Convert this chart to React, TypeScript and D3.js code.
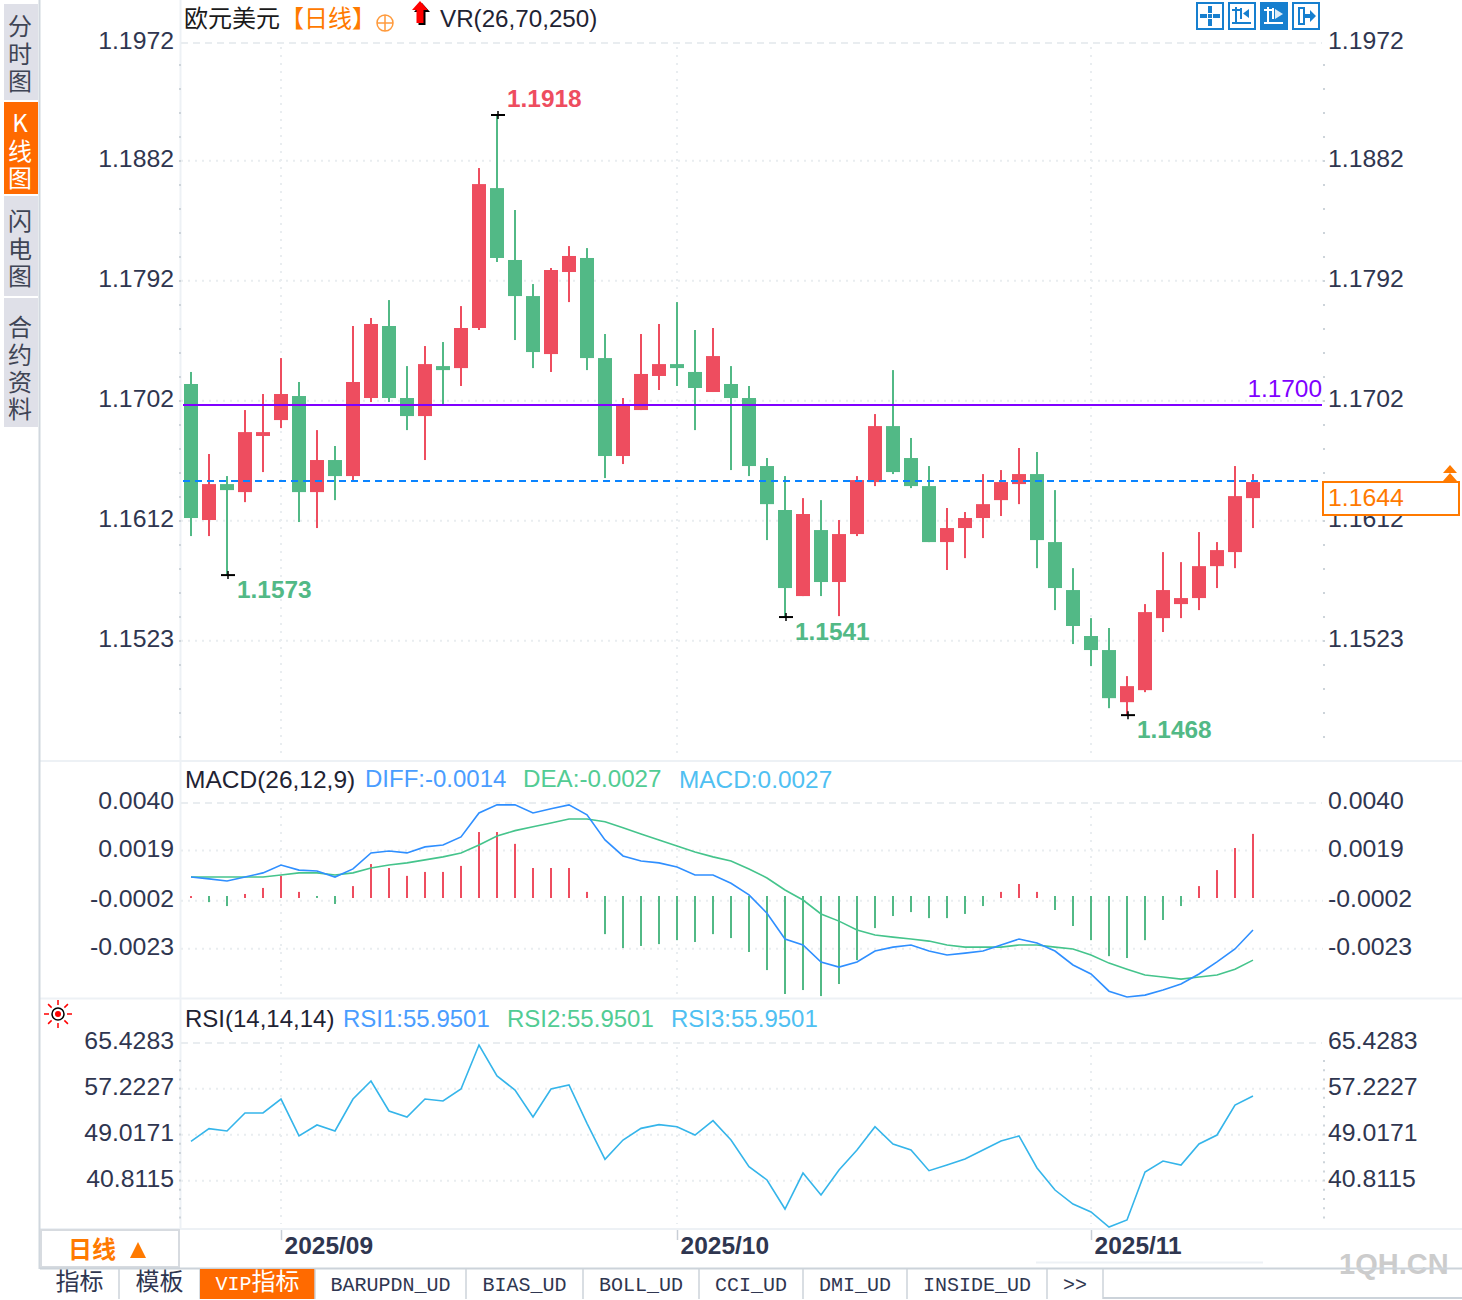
import React, { useEffect, useRef } from 'react';
import * as d3 from 'd3';

// candles, left to right, one per trading day
const opens = [1.17151,1.16133,1.16402,1.16342,1.16762,1.16881,1.17061,1.16342,1.16582,1.16462,1.17046,1.17585,1.17046,1.16911,1.17285,1.1727,1.1757,1.18617,1.18079,1.17809,1.17375,1.17989,1.18094,1.17345,1.16612,1.16956,1.17211,1.173,1.17241,1.17091,1.17151,1.17046,1.16537,1.16208,1.15564,1.16058,1.15669,1.16028,1.16417,1.16836,1.16597,1.16387,1.15968,1.16073,1.16148,1.16282,1.16402,1.16477,1.15968,1.15609,1.15265,1.1516,1.1477,1.1486,1.15399,1.15504,1.15549,1.15788,1.15893,1.16297];
const highs = [1.17241,1.16627,1.16462,1.16956,1.17076,1.17345,1.17166,1.16806,1.16687,1.17585,1.17645,1.17779,1.17285,1.17435,1.17465,1.17734,1.18767,1.19164,1.18453,1.17899,1.18019,1.18183,1.18168,1.17525,1.17046,1.17525,1.176,1.17764,1.17555,1.1757,1.17285,1.17136,1.16597,1.16462,1.16297,1.16282,1.16133,1.16462,1.16926,1.17255,1.16747,1.16537,1.16223,1.16193,1.16477,1.16507,1.16672,1.16642,1.16357,1.15773,1.15399,1.15325,1.14965,1.15504,1.15893,1.15818,1.16043,1.15968,1.16537,1.16477];
const lows = [1.16013,1.16013,1.15721,1.16267,1.16492,1.16821,1.16118,1.16073,1.16282,1.16432,1.17016,1.17016,1.16806,1.16582,1.17001,1.17136,1.17555,1.18064,1.1748,1.1727,1.17241,1.17764,1.17255,1.16447,1.16552,1.16956,1.17106,1.17136,1.16806,1.17091,1.16507,1.16462,1.15983,1.15407,1.15564,1.15564,1.15414,1.16013,1.16387,1.16477,1.16372,1.15968,1.15759,1.15848,1.15998,1.16163,1.16252,1.15773,1.15459,1.15205,1.1504,1.14725,1.14673,1.14845,1.15295,1.15399,1.15459,1.15624,1.15773,1.16073];
const closes = [1.16148,1.16402,1.16357,1.16791,1.16791,1.17076,1.16342,1.16582,1.16462,1.17166,1.176,1.17046,1.16911,1.173,1.17255,1.1757,1.18647,1.18094,1.17809,1.1739,1.18004,1.18109,1.17345,1.16612,1.17001,1.17226,1.173,1.1727,1.17121,1.1736,1.17046,1.16537,1.16252,1.15624,1.16178,1.15669,1.16028,1.16432,1.16836,1.16492,1.16387,1.15968,1.16073,1.16148,1.16252,1.16417,1.16477,1.15983,1.15624,1.1534,1.1516,1.148,1.1489,1.15444,1.15609,1.15549,1.15788,1.15908,1.16312,1.16417];

// MACD pane
const macdBars = [0.00004,-0.00022,-0.00039,0.00013,0.00039,0.00091,0.00022,-0.00004,-0.0003,0.00047,0.00142,0.00125,0.00091,0.00108,0.00108,0.00134,0.0028,0.0028,0.00229,0.00125,0.00125,0.00125,0.00022,-0.0016,-0.0022,-0.00211,-0.00203,-0.00186,-0.00194,-0.0016,-0.00177,-0.00237,-0.00315,-0.00418,-0.00401,-0.00427,-0.00375,-0.00272,-0.00134,-0.00082,-0.00065,-0.00091,-0.00091,-0.00073,-0.00039,0.00022,0.00056,0.00022,-0.00056,-0.00125,-0.00186,-0.00255,-0.00263,-0.00186,-0.00099,-0.00039,0.00047,0.00116,0.00211,0.00272];
const diffLine = [0.00086,0.00078,0.00069,0.00086,0.00104,0.00138,0.00116,0.00112,0.00086,0.00121,0.0019,0.00198,0.0019,0.00216,0.00224,0.00259,0.00362,0.00397,0.00397,0.00362,0.0038,0.00397,0.00354,0.00246,0.00177,0.00155,0.00147,0.00129,0.00095,0.00095,0.00059,0.00009,-0.0007,-0.00181,-0.00207,-0.0028,-0.00302,-0.0028,-0.00233,-0.00216,-0.00207,-0.00233,-0.0025,-0.00242,-0.00233,-0.00207,-0.00181,-0.00198,-0.00233,-0.00293,-0.00332,-0.00406,-0.00431,-0.00423,-0.00401,-0.00375,-0.00332,-0.0028,-0.00224,-0.00142];
const deaLine = [0.00086,0.00086,0.00086,0.00086,0.00086,0.00095,0.00104,0.00104,0.00095,0.00104,0.00125,0.00138,0.00147,0.0016,0.00173,0.0019,0.00224,0.00263,0.00286,0.00303,0.00319,0.00336,0.00336,0.00324,0.00298,0.00272,0.00246,0.0022,0.00194,0.00173,0.00155,0.00121,0.00082,0.0003,-0.00013,-0.00073,-0.00104,-0.00142,-0.00164,-0.00173,-0.00181,-0.0019,-0.00207,-0.00216,-0.00216,-0.00216,-0.00207,-0.00207,-0.00216,-0.00224,-0.0025,-0.00285,-0.00311,-0.00336,-0.00345,-0.00354,-0.00345,-0.00336,-0.00311,-0.00272];

// RSI pane
const rsiLine = [47.84,50.09,49.68,52.89,52.89,55.38,48.79,50.75,49.68,55.38,58.6,53.24,52.17,55.38,55.03,57.17,65.02,59.49,56.99,52.17,57.17,57.88,51.04,44.62,48.07,50.15,50.81,50.45,48.96,51.52,48.07,43.32,40.94,35.76,42.18,38.26,42.72,46.29,50.45,47.36,46.29,42.6,43.61,44.68,46.29,47.89,48.79,43.08,39.15,36.65,35.23,32.55,33.8,42.36,44.32,43.61,47.36,48.96,54.31,55.92];

// tick positions and their printed labels
const priceTicks = [1.1972, 1.18822, 1.17924, 1.17026, 1.16128, 1.1523];
const priceTickLabels = ['1.1972', '1.1882', '1.1792', '1.1702', '1.1612', '1.1523'];
const macdTicks = [0.00407, 0.002, -0.00016, -0.00223];
const macdTickLabels = ['0.0040', '0.0019', '-0.0002', '-0.0023'];
const rsiTicks = [65.4283, 57.2227, 49.0171, 40.8115];
const rsiTickLabels = ['65.4283', '57.2227', '49.0171', '40.8115'];
const dateTicks = [5, 27, 50];
const dateTickLabels = ['2025/09', '2025/10', '2025/11'];

// price annotations
const extremeIdx = [17, 2, 33, 52];
const extremeLabels = ['1.1918', '1.1573', '1.1541', '1.1468'];
const markPrice = 1.16994;
const lastPrice = 1.16425;

const sideTabs = ['分时图', 'K线图', '闪电图', '合约资料'];
const bottomTabs = ['指标', '模板', 'VIP指标', 'BARUPDN_UD', 'BIAS_UD', 'BOLL_UD', 'CCI_UD', 'DMI_UD', 'INSIDE_UD', '>>'];

const UP = '#ee4d5f';
const DOWN = '#52b986';
const ORANGE = '#ff7a00';
const TEXT = '#2f3650';
const GRID = '#e9edf0';
const SANS = '"Liberation Sans", Arial, sans-serif';
const CJK = '"Noto Sans CJK SC", sans-serif';
const MONO = '"Liberation Mono", monospace';

export default function App() {
  const svgRef = useRef<SVGSVGElement>(null);

  useEffect(() => {
    const svg = d3.select(svgRef.current);
    svg.selectAll('*').remove();

    const plotLeft = 181;
    const plotRight = 1323;

    const x = d3.scaleLinear().domain([0, 59]).range([191, 1253]);
    const yPrice = d3.scaleLinear().domain([1.1523, 1.1972]).range([640.7, 40.7]);
    const yMacd = d3.scaleLinear().domain([0, 0.00431]).range([897, 797]);
    const yRsi = d3.scaleLinear().domain([40.8115, 65.4283]).range([1180.7, 1042.7]);

    const addText = (px: number, py: number, str: string, fill: string, opts: any = {}) =>
      svg.append('text')
        .attr('x', px).attr('y', py)
        .attr('dy', '0.35em')
        .attr('text-anchor', opts.anchor || 'start')
        .style('font-family', opts.family || SANS)
        .style('font-size', `${opts.size || 24}px`)
        .style('font-weight', opts.weight || 400)
        .style('fill', fill)
        .text(str);

    const hLine = (py: number, x1: number, x2: number, color: string, w = 2, dash?: string) =>
      svg.append('line').attr('x1', x1).attr('x2', x2).attr('y1', py).attr('y2', py)
        .attr('stroke', color).attr('stroke-width', w).attr('stroke-dasharray', dash || null);

    const vLine = (px: number, y1: number, y2: number, color: string, w = 2, dash?: string) =>
      svg.append('line').attr('x1', px).attr('x2', px).attr('y1', y1).attr('y2', y2)
        .attr('stroke', color).attr('stroke-width', w).attr('stroke-dasharray', dash || null);

    // pane frames
    hLine(761, 40, 1462, '#edf1f5');
    hLine(998.5, 40, 1462, '#edf1f5');
    hLine(1229, 40, 1462, '#edf1f5');
    vLine(180.5, 0, 1229, '#edf1f5');
    vLine(39.5, 0, 1269, '#d0d7de');

    // top dashed borders of each pane
    [43, 803, 1043].forEach(py => hLine(py, plotLeft, 1322, GRID, 2, '7 5'));

    // horizontal dotted grid
    priceTicks.slice(1).forEach(t => hLine(yPrice(t), plotLeft, plotRight, GRID, 2, '2 5'));
    macdTicks.slice(1).forEach(t => hLine(yMacd(t), plotLeft, plotRight, GRID, 2, '2 5'));
    rsiTicks.slice(1).forEach(t => hLine(yRsi(t), plotLeft, plotRight, GRID, 2, '2 5'));

    // vertical dotted grid at month starts
    dateTicks.forEach(i => {
      vLine(x(i), 47, 756, GRID, 2, '2 6');
      vLine(x(i), 808, 996, GRID, 2, '2 6');
      vLine(x(i), 1047, 1224, GRID, 2, '2 6');
    });

    // minor axis marks
    d3.range(65, 745, 24).forEach(py => {
      hLine(py, 179, 181, '#cdd4da');
      hLine(py, 1323, 1325, '#cdd4da');
    });
    d3.range(1061, 1225, 9.2).forEach(py => {
      hLine(py, 179, 181, '#cdd4da');
      hLine(py, 1323, 1325, '#cdd4da');
    });

    // axes, labels sit a little above their grid line (the top price label does not)
    const styleAxis = (g: any) => {
      g.select('.domain').remove();
      g.selectAll('.tick line').remove();
      g.selectAll('text')
        .attr('y', function (this: any) { return d3.select(this).text() === '1.1972' ? 0 : -2; })
        .style('font-family', SANS)
        .style('font-size', '24.8px')
        .style('fill', TEXT);
    };
    const addAxes = (scale: any, ticks: number[], labels: string[]) => {
      svg.append('g').attr('transform', 'translate(180,0)')
        .call(d3.axisLeft(scale).tickValues(ticks).tickSize(0).tickPadding(6)
          .tickFormat((_: any, i: number) => labels[i]))
        .call(styleAxis);
      svg.append('g').attr('transform', 'translate(1322,0)')
        .call(d3.axisRight(scale).tickValues(ticks).tickSize(0).tickPadding(6)
          .tickFormat((_: any, i: number) => labels[i]))
        .call(styleAxis);
    };
    addAxes(yPrice, priceTicks, priceTickLabels);
    addAxes(yMacd, macdTicks, macdTickLabels);
    addAxes(yRsi, rsiTicks, rsiTickLabels);

    // candles
    const candles = svg.append('g').selectAll('g')
      .data(d3.range(closes.length))
      .enter().append('g')
      .attr('fill', i => (closes[i] >= opens[i] ? UP : DOWN));
    candles.append('rect')
      .attr('x', i => x(i) - 1).attr('width', 2)
      .attr('y', i => yPrice(highs[i]))
      .attr('height', i => yPrice(lows[i]) - yPrice(highs[i]));
    candles.append('rect')
      .attr('x', i => x(i) - 7).attr('width', 14)
      .attr('y', i => yPrice(Math.max(opens[i], closes[i])))
      .attr('height', i => Math.max(2, Math.abs(yPrice(opens[i]) - yPrice(closes[i]))));

    // high and low markers
    extremeIdx.forEach((idx, n) => {
      const isHigh = n === 0;
      const py = yPrice(isHigh ? highs[idx] : lows[idx]);
      hLine(py, x(idx) - 6, x(idx) + 8, '#000');
      vLine(x(idx) + 1, py - 4, py + 4, '#000', 1.5);
      addText(x(idx) + 10, py + (isHigh ? -17 : 14), extremeLabels[n], isHigh ? UP : DOWN, { weight: 700, size: 24.4 });
    });

    // reference lines
    hLine(yPrice(markPrice), 183, 1322, '#8000ff');
    addText(1322, 388.5, '1.1700', '#8000ff', { anchor: 'end', size: 24.4 });
    hLine(yPrice(lastPrice), 183, 1322, '#0a84ff', 2, '7 5');
    svg.append('rect').attr('x', 1323).attr('y', 482).attr('width', 136).attr('height', 33)
      .attr('fill', '#fff').attr('stroke', ORANGE).attr('stroke-width', 2);
    addText(1328, 497, '1.1644', ORANGE, { size: 24.8 });
    [0, 8].forEach(dy => {
      svg.append('path')
        .attr('d', d3.line()([[1443, 473 + dy], [1450, 465 + dy], [1457, 473 + dy]]) + 'Z')
        .attr('fill', ORANGE);
    });

    // MACD histogram
    svg.append('g').selectAll('rect')
      .data(macdBars)
      .enter().append('rect')
      .attr('x', (_, i) => x(i) - 1)
      .attr('width', 2)
      .attr('y', d => (d >= 0 ? yMacd(d) : yMacd(0) - 1))
      .attr('height', d => Math.abs(yMacd(d) - yMacd(0)) + 1)
      .attr('fill', d => (d >= 0 ? UP : DOWN));

    const drawLine = (values: number[], scale: any, color: string) =>
      svg.append('path')
        .attr('d', d3.line<number>().x((_, i) => x(i)).y(d => scale(d))(values))
        .attr('fill', 'none').attr('stroke', color).attr('stroke-width', 1.6);

    drawLine(deaLine, yMacd, '#45c48c');
    drawLine(diffLine, yMacd, '#2f8fff');
    drawLine(rsiLine, yRsi, '#35b5ea');

    // pane headers
    addText(184, 19, '欧元美元', '#1a1a1a', { family: CJK });
    addText(280, 19, '【日线】', ORANGE, { family: CJK });
    addText(440, 19, 'VR(26,70,250)', '#1f2333', { size: 24.2 });
    svg.append('circle').attr('cx', 385).attr('cy', 23).attr('r', 8)
      .attr('fill', 'none').attr('stroke', '#ff9a3c').attr('stroke-width', 1.5);
    hLine(23, 377, 393, '#ff9a3c', 1.5);
    vLine(385, 15, 31, '#ff9a3c', 1.5);
    const arrow = 'M0,-12 L8,-3 L3.5,-3 L3.5,10 L-3.5,10 L-3.5,-3 L-8,-3 Z';
    svg.append('path').attr('d', arrow).attr('transform', 'translate(422,15)').attr('fill', '#000');
    svg.append('path').attr('d', arrow).attr('transform', 'translate(420,13)').attr('fill', '#f00');

    addText(185, 779, 'MACD(26,12,9)', '#1f2333', { size: 24.5 });
    addText(365, 779, 'DIFF:-0.0014', '#4a9dff');
    addText(523, 779, 'DEA:-0.0027', '#52cc94', { size: 24.2 });
    addText(679, 779, 'MACD:0.0027', '#4fc0f2', { size: 24.4 });

    addText(185, 1019, 'RSI(14,14,14)', '#1f2333');
    addText(343, 1019, 'RSI1:55.9501', '#4a9dff');
    addText(507, 1019, 'RSI2:55.9501', '#52cc94');
    addText(671, 1019, 'RSI3:55.9501', '#4fc0f2');

    // indicator sun
    svg.append('circle').attr('cx', 58).attr('cy', 1014).attr('r', 6)
      .attr('fill', '#fff').attr('stroke', '#000').attr('stroke-width', 1.5);
    svg.append('circle').attr('cx', 58).attr('cy', 1014).attr('r', 3).attr('fill', '#f00');
    d3.range(8).forEach(k => {
      const a = (k * Math.PI) / 4;
      svg.append('line')
        .attr('x1', 58 + 9 * Math.cos(a)).attr('y1', 1014 + 9 * Math.sin(a))
        .attr('x2', 58 + 14 * Math.cos(a)).attr('y2', 1014 + 14 * Math.sin(a))
        .attr('stroke', '#f00').attr('stroke-width', 1.5);
    });

    // toolbar icons
    const iconX = [1197, 1229, 1261, 1293];
    iconX.forEach((ix, n) => {
      const active = n === 2;
      const c = active ? '#fff' : '#167fcf';
      svg.append('rect').attr('x', ix).attr('y', 3).attr('width', 26).attr('height', 26)
        .attr('fill', active ? '#167fcf' : '#fff').attr('stroke', '#167fcf').attr('stroke-width', 2);
      const g = svg.append('g').attr('transform', `translate(${ix},3)`);
      if (n === 0) {
        g.append('path').attr('fill', c)
          .attr('d', 'M11,3 h4 v7 h-4 Z M11,16 h4 v7 h-4 Z M3,11 h7 v4 h-7 Z M16,11 h7 v4 h-7 Z M11,11 h4 v4 h-4 Z');
      } else if (n === 3) {
        g.append('path').attr('fill', 'none').attr('stroke', c).attr('stroke-width', 2).attr('d', 'M6,5 h5 v16 h-5 Z');
        g.append('path').attr('fill', c).attr('d', 'M11,11 h6 v-4 l6,6 l-6,6 v-4 h-6 Z');
      } else {
        g.append('path').attr('fill', 'none').attr('stroke', c).attr('stroke-width', 2)
          .attr('d', 'M7,4 v17 M3,20 h19 M3,7 h8 M12,5 v11');
        g.append('path').attr('fill', c).attr('opacity', n === 2 ? 0.85 : 1)
          .attr('d', n === 1 ? 'M20,6 v9 l-6,-4.5 Z' : 'M14,6 v10 l8,-5 Z');
      }
    });

    // date axis
    svg.append('g').attr('transform', 'translate(0,1230)')
      .call(d3.axisBottom(x).tickValues(dateTicks).tickSize(10)
        .tickFormat((_: any, i: number) => dateTickLabels[i]))
      .call((g: any) => {
        g.select('.domain').remove();
        g.selectAll('.tick line').attr('stroke', '#c8ced6').attr('stroke-width', 1.5);
        g.selectAll('text')
          .attr('text-anchor', 'start').attr('x', 3).attr('y', 15).attr('dy', '0.35em')
          .style('font-family', SANS).style('font-size', '24.5px').style('font-weight', 700)
          .style('fill', TEXT);
      });

    hLine(1262.5, 1036, 1263, '#edf1f5');
    addText(1339, 1264, '1QH.CN', '#cccccc', { size: 29, weight: 700 });

    // left side tabs, one text per tab
    const tabTops = [4, 102, 196, 298];
    const tabBottoms = [100, 194, 296, 427];
    const tabFirstChar = [27, 124, 222, 328];
    sideTabs.forEach((label, n) => {
      const active = n === 1;
      svg.append('rect').attr('x', 4).attr('y', tabTops[n]).attr('width', 34)
        .attr('height', tabBottoms[n] - tabTops[n])
        .attr('fill', active ? '#ff6a00' : '#dfe0e8');
      const t = svg.append('text')
        .attr('text-anchor', 'middle')
        .style('font-family', CJK).style('font-size', '24px')
        .style('fill', active ? '#fff' : '#3f4555');
      Array.from(label).forEach((ch, k) => {
        t.append('tspan').attr('x', 20).attr('y', tabFirstChar[n] + k * 27.3).attr('dy', '0.35em').text(ch);
      });
    });

    // period selector
    svg.append('rect').attr('x', 41).attr('y', 1230).attr('width', 138).attr('height', 37)
      .attr('fill', '#fff').attr('stroke', '#d7dbe0').attr('stroke-width', 2);
    addText(68, 1250, '日线', ORANGE, { family: CJK, weight: 700 });
    svg.append('path').attr('d', d3.line()([[138, 1242], [146, 1258], [130, 1258]]) + 'Z').attr('fill', ORANGE);

    // bottom tabs
    const tabEdges = [40, 119, 200, 315, 466, 583, 699, 803, 907, 1047, 1103];
    hLine(1268.5, 40, 1462, '#ccd3da');
    hLine(1298, 1103, 1462, '#ccd3da');
    bottomTabs.forEach((label, n) => {
      const left = tabEdges[n];
      const right = tabEdges[n + 1];
      if (n === 2) {
        svg.append('rect').attr('x', left).attr('y', 1269).attr('width', right - left).attr('height', 30).attr('fill', '#ff6a00');
      }
      vLine(right, 1269, 1299, '#ccd3da', 1.5);
      const t = svg.append('text')
        .attr('x', (left + right) / 2).attr('y', 1284).attr('dy', '0.35em').attr('text-anchor', 'middle')
        .style('fill', n === 2 ? '#fff' : TEXT);
      if (n <= 2) {
        const ascii = label.replace(/[^A-Z]/g, '');
        if (ascii) t.append('tspan').style('font-family', MONO).style('font-size', '20px').text(ascii);
        t.append('tspan').style('font-family', CJK).style('font-size', '24px').text(label.replace(/[A-Z]/g, ''));
      } else {
        t.style('font-family', MONO).style('font-size', '20px').text(label);
      }
    });
  }, []);

  return (
    <svg
      ref={svgRef}
      width={1462}
      height={1300}
      viewBox="0 0 1462 1300"
      style={{ position: 'absolute', left: 0, top: 0, background: '#fff' }}
    />
  );
}
